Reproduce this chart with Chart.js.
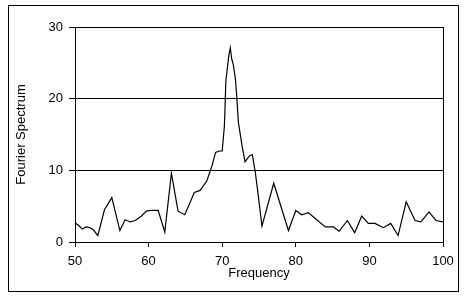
<!DOCTYPE html>
<html>
<head>
<meta charset="utf-8">
<script src="https://cdn.jsdelivr.net/npm/chart.js@4/dist/chart.umd.min.js"></script>
<style>
  html, body { margin: 0; padding: 0; background: #fff; }
  #wrap { position: absolute; left: 0; top: 0; width: 467px; height: 300px; }
</style>
</head>
<body>
<div id="wrap"><canvas id="c" width="467" height="300"></canvas></div>
<script>
// Frequency samples and Fourier spectrum values
const frequency = [50.0, 50.5, 51.0, 51.5, 52.0, 52.5, 53.1, 54.0, 55.0, 56.1, 56.8, 57.5, 58.2, 59.0, 59.7, 60.3, 61.3, 62.2, 63.1, 64.0, 64.9, 65.6, 66.2, 67.0, 67.9, 68.6, 69.1, 69.6, 70.0, 70.3, 70.5, 70.9, 71.1, 71.3, 71.5, 71.8, 72.0, 72.2, 72.7, 73.1, 73.7, 74.1, 74.5, 74.8, 75.4, 77.0, 79.0, 80.0, 80.8, 81.7, 82.4, 84.0, 85.1, 85.9, 87.0, 88.0, 88.95, 89.85, 90.76, 91.9, 92.9, 93.9, 95.0, 96.2, 97.0, 98.1, 99.05, 100.0];
const spectrum  = [2.7, 2.3, 1.8, 2.1, 2.0, 1.7, 0.9, 4.5, 6.2, 1.6, 3.1, 2.8, 3.0, 3.6, 4.3, 4.4, 4.4, 1.4, 9.6, 4.3, 3.8, 5.4, 6.9, 7.2, 8.5, 10.6, 12.5, 12.7, 12.7, 16.2, 22.5, 26.0, 27.1, 25.5, 24.8, 22.7, 19.9, 16.7, 13.4, 11.2, 12.0, 12.2, 9.7, 7.3, 2.2, 8.2, 1.6, 4.4, 3.8, 4.1, 3.5, 2.1, 2.1, 1.5, 3.0, 1.3, 3.6, 2.6, 2.6, 2.0, 2.6, 0.9, 5.6, 3.0, 2.8, 4.2, 3.0, 2.8];
const xTicks = [50, 60, 70, 80, 90, 100];
const yTicks = [0, 10, 20, 30];
const xTitle = 'Frequency';
const yTitle = 'Fourier Spectrum';

const points = frequency.map((f, i) => ({ x: f, y: spectrum[i] }));
const FONT = { family: '"Liberation Sans", Arial, sans-serif', size: 13 };

const framePlugin = {
  id: 'frames',
  afterDraw(chart) {
    const { ctx, chartArea: a } = chart;
    ctx.save();
    ctx.strokeStyle = '#000';
    ctx.lineWidth = 1;
    // outer chart border
    ctx.strokeRect(8.5, 5.5, 450, 286);
    // plot area frame (right edge)
    ctx.beginPath();
    ctx.moveTo(Math.round(a.right) + 0.5, Math.round(a.top));
    ctx.lineTo(Math.round(a.right) + 0.5, Math.round(a.bottom) + 1);
    ctx.stroke();
    ctx.restore();
  }
};

new Chart(document.getElementById('c'), {
  type: 'line',
  data: {
    datasets: [{
      data: points,
      borderColor: '#000',
      borderWidth: 1.2,
      pointRadius: 0,
      tension: 0,
      fill: false
    }]
  },
  options: {
    responsive: false,
    animation: false,
    events: [],
    layout: { padding: { left: 0, top: 27, right: 24, bottom: 0 } },
    plugins: { legend: { display: false }, tooltip: { enabled: false } },
    scales: {
      x: {
        type: 'linear',
        min: 50, max: 100,
        afterBuildTicks: s => { s.ticks = xTicks.map(v => ({ value: v })); },
        afterFit: s => { s.height = 58; },
        ticks: { color: '#000', font: FONT, padding: 7, maxRotation: 0, autoSkip: false },
        grid: { drawOnChartArea: false, drawTicks: true, tickLength: 5, color: '#000', lineWidth: 1 },
        border: { display: true, color: '#000', width: 1 },
        title: { display: true, text: xTitle, color: '#000', font: FONT, padding: { top: 0, bottom: 19 } }
      },
      y: {
        type: 'linear',
        min: 0, max: 30,
        afterBuildTicks: s => { s.ticks = yTicks.map(v => ({ value: v })); },
        afterFit: s => { s.width = 75; },
        ticks: { color: '#000', font: FONT, padding: 6 },
        grid: { drawOnChartArea: true, drawTicks: true, tickLength: 6, color: '#000', lineWidth: 1 },
        border: { display: true, color: '#000', width: 1 },
        title: { display: true, text: yTitle, color: '#000', font: FONT, padding: { top: 14, bottom: 0 } }
      }
    }
  },
  plugins: [framePlugin]
});
</script>
</body>
</html>
